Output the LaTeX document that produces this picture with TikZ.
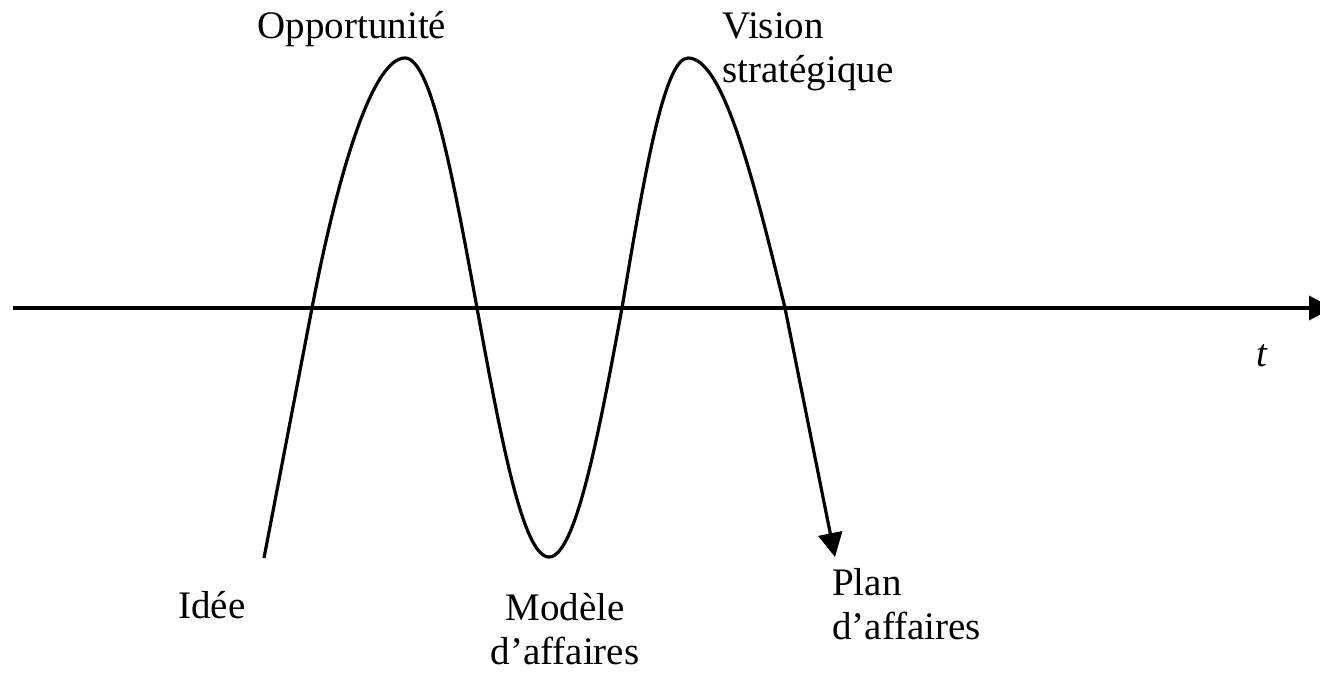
\documentclass[tikz,border=0pt]{standalone}
\usepackage{fontspec}
\setmainfont{Liberation Serif}
\usetikzlibrary{arrows.meta}
\begin{document}
\begin{tikzpicture}[x=1pt,y=-1pt,
  lbl/.style={font=\fontsize{39}{44}\selectfont, inner sep=0pt},
  ln/.style={line width=3.2pt},
  tipend/.style={-{Triangle[length=24pt,width=24pt]}}]
\useasboundingbox (0,0) rectangle (1320,692);
% axis
\coordinate (a0) at (13,308);
\coordinate (a1) at (1333,308);
\draw[ln,tipend] (a0) -- (a1);
% wave
\coordinate (c0) at (264,558);
\coordinate (x1) at (312,308);
\coordinate (p1) at (405,58);
\coordinate (x2) at (477,308);
\coordinate (v1) at (549,557);
\coordinate (x3) at (622,308);
\coordinate (p2) at (688,58);
\coordinate (x4) at (785,308);
\coordinate (c1) at (835,557);
\draw[ln,tipend] (c0) -- (x1)
  .. controls (337,177) and (372,58) .. (p1)
  .. controls (431,58) and (453,177) .. (x2)
  .. controls (501,439) and (523,557) .. (v1)
  .. controls (575,557) and (598,439) .. (x3)
  .. controls (644,177) and (664,58) .. (p2)
  .. controls (723,58) and (753,177) .. (x4)
  -- (c1);
% labels (base anchor of a multi-line node = baseline of its last line)
\node[lbl, anchor=base] (opp) at (352,39) {Opportunité};
\node[lbl, anchor=base west, align=left] (vis) at (722,83) {Vision\\stratégique};
\node[lbl, anchor=base west] (idee) at (178,618) {Idée};
\node[lbl, anchor=base, align=center] (mod) at (565,664) {Modèle\\d’affaires};
\node[lbl, anchor=base west, align=left] (plan) at (832,639) {Plan\\d’affaires};
\node[lbl] (t) at (1262,356) {\textit{t}};
\end{tikzpicture}
\end{document}
